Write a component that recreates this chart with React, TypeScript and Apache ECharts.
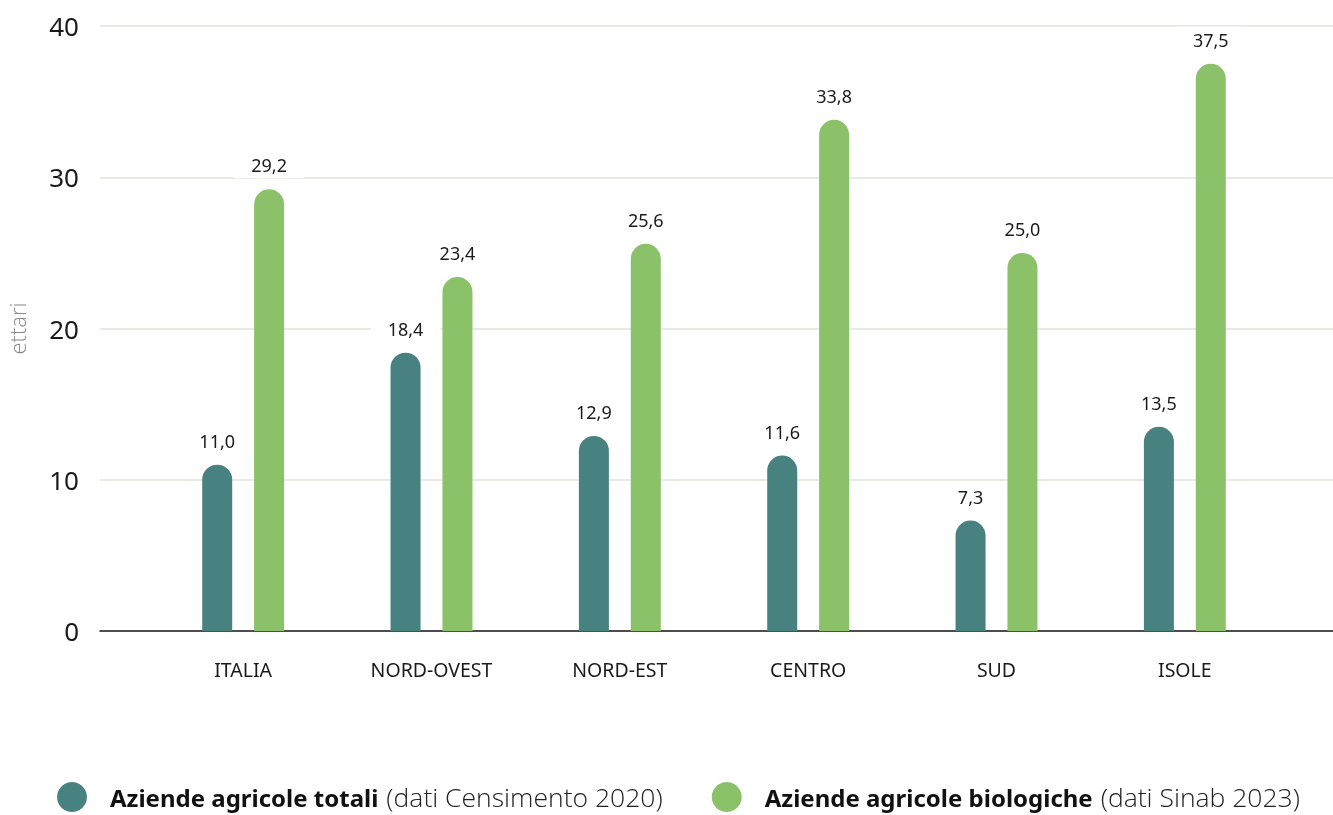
import React, { useEffect, useRef } from "react";
import * as echarts from "echarts";

const categories = ["ITALIA", "NORD-OVEST", "NORD-EST", "CENTRO", "SUD", "ISOLE"];
const totali = [11.0, 18.4, 12.9, 11.6, 7.3, 13.5];
const biologiche = [29.2, 23.4, 25.6, 33.8, 25.0, 37.5];
const seriesBold = ["Aziende agricole totali", "Aziende agricole biologiche"];
const seriesNote = ["(dati Censimento 2020)", "(dati Sinab 2023)"];
const yName = "ettari";
const yMin = 0;
const yMax = 40;
const yInterval = 10;

const FONT = "'Noto Sans', sans-serif";
const LIGHT = "'Open Sans', 'Noto Sans', sans-serif";
const TEAL = "#478180";
const GREEN = "#8bc168";

export default function App() {
  const ref = useRef<HTMLDivElement>(null);
  useEffect(() => {
    if (!ref.current) return;
    const chart = echarts.init(ref.current, null, { renderer: "svg" });
    const names = seriesBold.map((b, i) => `${b} ${seriesNote[i]}`);
    const fmt = (p: any) => Number(p.value).toFixed(1).replace(".", ",");
    const label = {
      show: true,
      position: "top" as const,
      distance: 11,
      formatter: fmt,
      color: "#1a1a1a",
      fontFamily: FONT,
      fontSize: 18,
      backgroundColor: "#ffffff",
      padding: [4, 17],
    };
    chart.setOption({
      animation: false,
      textStyle: { fontFamily: FONT },
      grid: [
        { left: 100, right: 0, top: 26, height: 605, outerBoundsMode: "none" },
        { left: 149, right: 54, top: 26, height: 605, outerBoundsMode: "none" },
      ],
      xAxis: [
        {
          gridIndex: 0,
          type: "category",
          data: [""],
          axisLine: { show: true, lineStyle: { color: "#1a1a1a", width: 1.5 } },
          axisTick: { show: false },
          axisLabel: { show: false },
        },
        {
          gridIndex: 1,
          type: "category",
          data: categories,
          axisLine: { show: false },
          axisTick: { show: false },
          axisLabel: {
            margin: 28,
            color: "#1a1a1a",
            fontFamily: FONT,
            fontSize: 19.5,
          },
        },
      ],
      yAxis: [
        {
          gridIndex: 0,
          type: "value",
          min: yMin,
          max: yMax,
          interval: yInterval,
          name: yName,
          nameLocation: "middle",
          nameGap: 72,
          nameRotate: 90,
          nameTextStyle: { color: "#8a8a8a", fontSize: 22, fontFamily: LIGHT, fontWeight: 300 },
          axisLine: { show: false },
          axisTick: { show: false },
          axisLabel: { margin: 21, color: "#1a1a1a", fontSize: 26, fontFamily: FONT },
          splitLine: { lineStyle: { color: "#e6e2dc", width: 1.5 } },
        },
        {
          gridIndex: 1,
          type: "value",
          min: yMin,
          max: yMax,
          interval: yInterval,
          show: false,
          splitLine: { show: false },
        },
      ],
      legend: {
        left: 57,
        top: 782,
        padding: 0,
        itemWidth: 30,
        itemHeight: 30,
        itemGap: 49,
        icon: "circle",
        data: names,
        formatter: (n: string) => {
          const i = names.indexOf(n);
          return `{b|${seriesBold[i]}}{r|${seriesNote[i]}}`;
        },
        textStyle: {
          padding: [0, 0, 0, 18],
          lineHeight: 26,
          rich: {
            b: { fontFamily: FONT, fontWeight: "bold", fontSize: 24, color: "#111", lineHeight: 26 },
            r: {
              fontFamily: LIGHT,
              fontWeight: 300,
              fontSize: 26.5,
              color: "#222",
              lineHeight: 26,
              padding: [0, 0, 0, 8],
            },
          },
        },
      },
      series: [
        {
          name: names[0],
          type: "bar",
          xAxisIndex: 1,
          yAxisIndex: 1,
          data: totali,
          barWidth: 30,
          barGap: "73%",
          itemStyle: { color: TEAL, borderRadius: [15, 15, 0, 0] },
          label,
        },
        {
          name: names[1],
          type: "bar",
          xAxisIndex: 1,
          yAxisIndex: 1,
          data: biologiche,
          barWidth: 30,
          barGap: "73%",
          itemStyle: { color: GREEN, borderRadius: [15, 15, 0, 0] },
          label,
        },
      ],
    });
    return () => chart.dispose();
  }, []);
  return (
    <div
      ref={ref}
      style={{ position: "fixed", left: 0, top: 0, width: 1333, height: 815 }}
    />
  );
}
